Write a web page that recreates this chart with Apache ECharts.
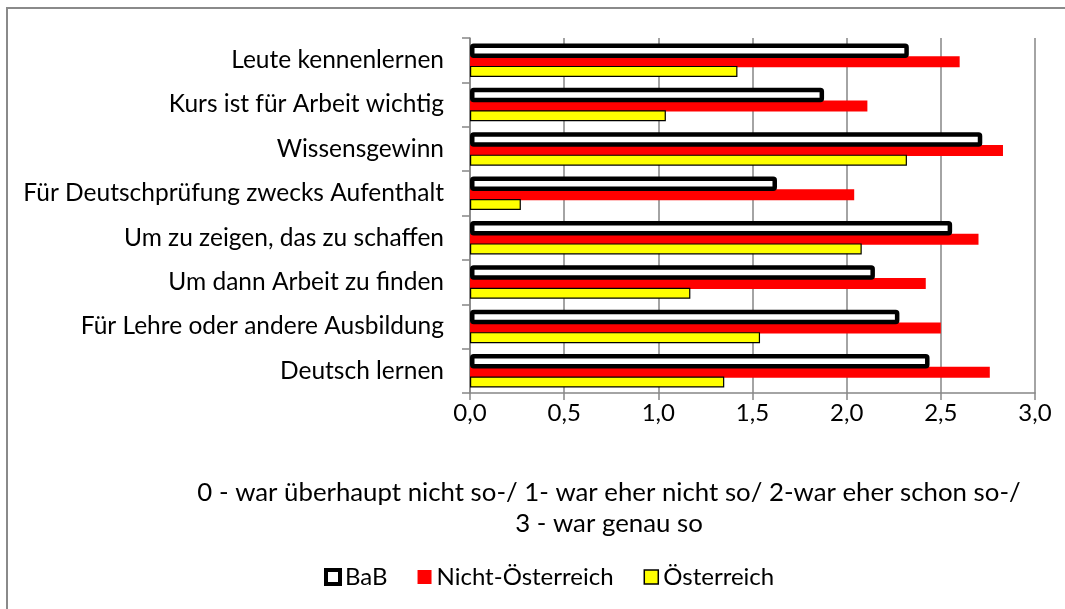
<!DOCTYPE html>
<html>
<head>
<meta charset="utf-8">
<script src="https://cdn.jsdelivr.net/npm/echarts@6/dist/echarts.min.js"></script>
<style>
html,body{margin:0;padding:0;background:#fff;}
#chart{width:1065px;height:609px;}
</style>
</head>
<body>
<div id="chart"></div>
<script>
// Categories listed bottom to top (ECharts category axis order)
const categories = [
  'Deutsch lernen',
  'Für Lehre oder andere Ausbildung',
  'Um dann Arbeit zu finden',
  'Um zu zeigen, das zu schaffen',
  'Für Deutschprüfung zwecks Aufenthalt',
  'Wissensgewinn',
  'Kurs ist für Arbeit wichtig',
  'Leute kennenlernen'
];
const babValues        = [2.44, 2.28, 2.15, 2.56, 1.63, 2.72, 1.88, 2.33];
const nichtOestValues  = [2.76, 2.50, 2.42, 2.70, 2.04, 2.83, 2.11, 2.60];
const oestValues       = [1.35, 1.54, 1.17, 2.08, 0.27, 2.32, 1.04, 1.42];
const tickLabels = ['0,0', '0,5', '1,0', '1,5', '2,0', '2,5', '3,0'];
const seriesNames = ['BaB', 'Nicht-Österreich', 'Österreich'];
const scaleNote = '0 - war überhaupt nicht so-/ 1- war eher nicht so/ 2-war eher schon so-/\n3 - war genau so';

const FONT = 'Lato';
const FS = 24;
const gray = '#868686';

const chart = echarts.init(document.getElementById('chart'), null, {renderer: 'canvas'});
chart.setOption({
  animation: false,
  backgroundColor: '#fff',
  textStyle: {fontFamily: FONT},
  grid: {left: 470, right: 30, top: 38, bottom: 216, containLabel: false},
  xAxis: {
    type: 'value', min: 0, max: 3, interval: 0.5,
    axisLine: {show: true, lineStyle: {color: gray, width: 1.5}},
    axisTick: {show: true, length: 7, lineStyle: {color: gray, width: 1.5}},
    splitLine: {show: true, lineStyle: {color: gray, width: 1.5}},
    axisLabel: {
      margin: 8, color: '#000', fontSize: FS, fontFamily: FONT,
      formatter: function (v) { return tickLabels[Math.round(v / 0.5)]; }
    }
  },
  yAxis: {
    type: 'category', data: categories,
    axisLine: {show: true, lineStyle: {color: gray, width: 1.5}},
    axisTick: {show: true, length: 8, alignWithLabel: false, lineStyle: {color: gray, width: 1.5}},
    splitLine: {show: false},
    axisLabel: {margin: 26, color: '#000', fontSize: 24.5, fontFamily: FONT}
  },
  legend: {
    left: 319, top: 560,
    itemWidth: 14, itemHeight: 14, itemGap: 30,
    icon: 'rect',
    textStyle: {fontSize: FS, fontFamily: FONT, color: '#000', padding: [0, 0, 0, 0]},
    data: [
      {name: seriesNames[0], itemStyle: {color: '#fff', borderColor: '#000', borderWidth: 4}},
      {name: seriesNames[1], itemStyle: {color: '#ff0000', borderWidth: 0}},
      {name: seriesNames[2], itemStyle: {color: '#ffff00', borderColor: '#000', borderWidth: 1.5}}
    ]
  },
  graphic: [
    {
      type: 'rect', silent: true, z: -1,
      shape: {x: 7, y: 8, width: 1200, height: 800},
      style: {fill: 'none', stroke: '#8a8a8a', lineWidth: 2}
    },
    {
      type: 'text', silent: true,
      x: 609, y: 477,
      style: {
        text: scaleNote, fill: '#000', fontSize: 25.8, fontFamily: FONT,
        align: 'center', verticalAlign: 'top', lineHeight: 31
      }
    }
  ],
  series: [
    {
      name: seriesNames[0], type: 'bar', data: babValues,
      barWidth: 14.5, barGap: '-12%', z: 3,
      itemStyle: {color: '#ffffff', borderColor: '#000', borderWidth: 4.5, borderRadius: 1.5}
    },
    {
      name: seriesNames[1], type: 'bar', data: nichtOestValues,
      barWidth: 11, barGap: '-12%', z: 2,
      itemStyle: {color: '#ff0000'}
    },
    {
      name: seriesNames[2], type: 'bar', data: oestValues,
      barWidth: 11, barGap: '-12%', z: 2,
      itemStyle: {color: '#ffff00', borderColor: '#000', borderWidth: 1.2}
    }
  ]
});
</script>
</body>
</html>
